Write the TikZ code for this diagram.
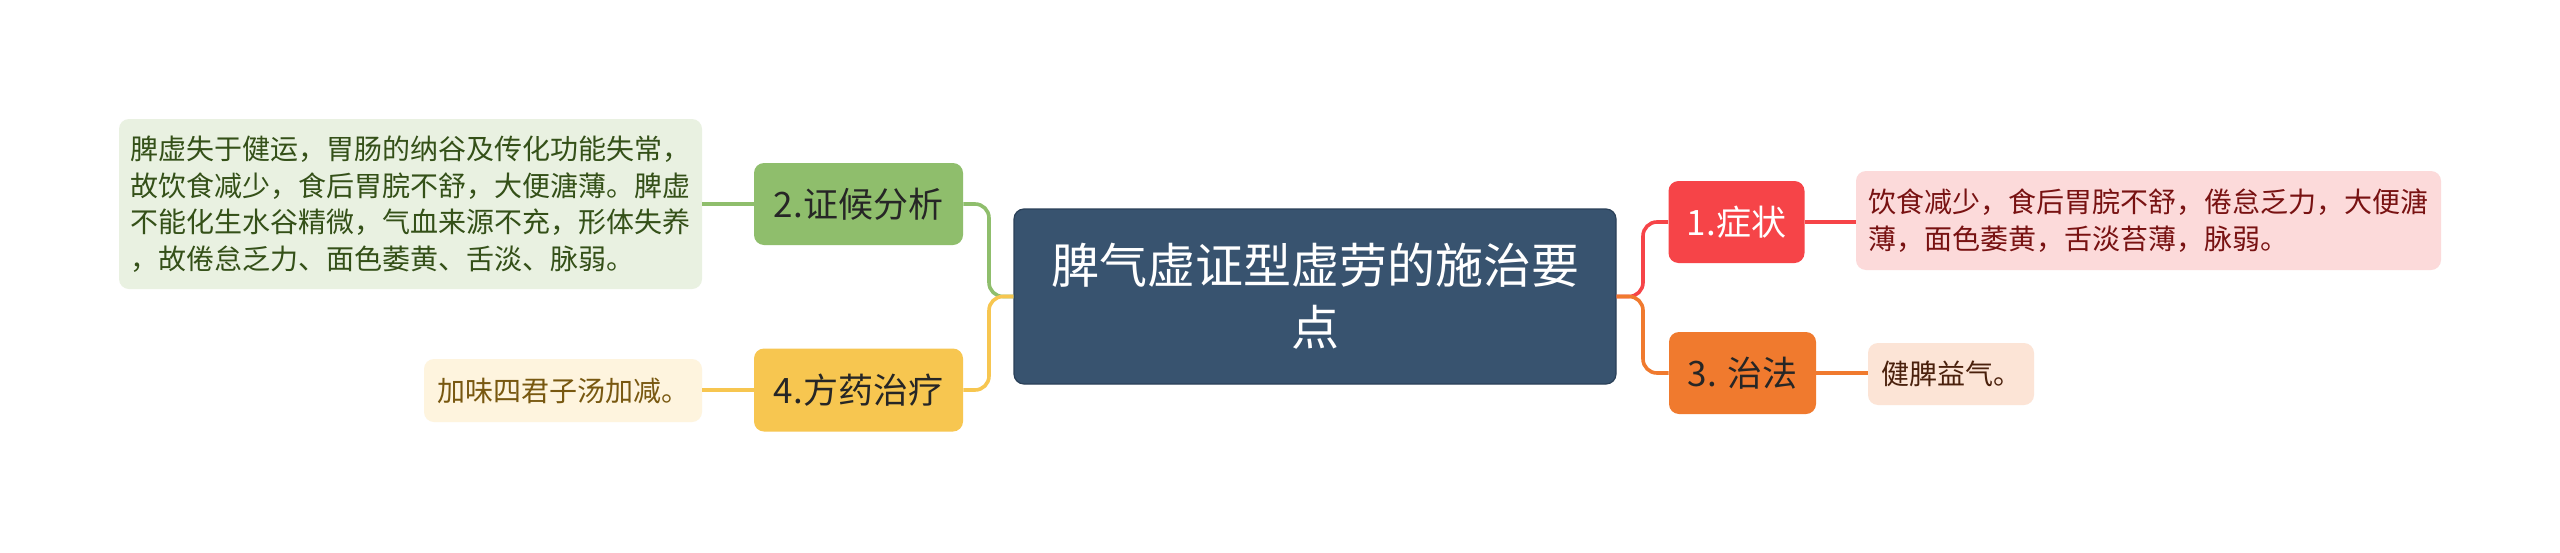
\documentclass[tikz,border=0pt]{standalone}
\usepackage{fontspec}
\setmainfont{Noto Sans CJK SC}
\definecolor{cbox}{RGB}{56,83,111}
\definecolor{cboxline}{RGB}{42,64,88}
\definecolor{gtopic}{RGB}{143,190,108}
\definecolor{gleaf}{RGB}{233,241,225}
\definecolor{gtext}{RGB}{52,80,24}
\definecolor{ytopic}{RGB}{247,198,80}
\definecolor{yleaf}{RGB}{254,244,222}
\definecolor{ytext}{RGB}{120,88,16}
\definecolor{rtopic}{RGB}{246,68,72}
\definecolor{rleaf}{RGB}{252,218,218}
\definecolor{rtext}{RGB}{120,18,18}
\definecolor{otopic}{RGB}{240,122,46}
\definecolor{oleaf}{RGB}{252,228,214}
\definecolor{otext}{RGB}{74,32,12}
\definecolor{darktext}{RGB}{38,38,38}
\tikzset{
  box/.style={rounded corners=5pt, inner sep=0pt, align=left},
  topicbox/.style={box, align=center, font=\fontsize{17.5}{20}\selectfont},
  leafbox/.style={box, font=\fontsize{14}{18.25}\selectfont},
  conn/.style={line width=1.8pt, rounded corners=7pt},
}
\begin{document}
\begin{tikzpicture}[x=0.5pt,y=-0.5pt]
\useasboundingbox[fill=white] (0,0) rectangle (2560,552);
% center
\node[box, align=center, fill=cbox, draw=cboxline, line width=0.6pt, text=white,
  minimum width=301pt, minimum height=87.5pt, font=\fontsize{24}{31}\selectfont]
  (c) at (1315,296.5) {脾气虚证型虚劳的施治要\\点};
% topics
\node[topicbox, fill=gtopic, text=darktext, minimum width=104.5pt, minimum height=41pt] (t2) at (858.5,204) {2.证候分析};
\node[topicbox, fill=ytopic, text=darktext, minimum width=104.5pt, minimum height=41.5pt] (t4) at (858.5,390) {4.方药治疗};
\node[topicbox, fill=rtopic, text=white, minimum width=68pt, minimum height=41pt] (t1) at (1736.5,222) {1.症状};
\node[topicbox, fill=otopic, text=darktext, minimum width=73.5pt, minimum height=41pt] (t3) at (1742.5,373) {3. 治法};
% leaves
\node[leafbox, fill=gleaf, text=gtext, minimum width=291.5pt, minimum height=85pt] (l2) at (410.5,204)
 {脾虚失于健运，胃肠的纳谷及传化功能失常，\\故饮食减少，食后胃脘不舒，大便溏薄。脾虚\\不能化生水谷精微，气血来源不充，形体失养\\，故倦怠乏力、面色萎黄、舌淡、脉弱。};
\node[leafbox, fill=yleaf, text=ytext, minimum width=139pt, minimum height=31.5pt] (l4) at (563,390.5) {加味四君子汤加减。};
\node[leafbox, fill=rleaf, text=rtext, minimum width=292.5pt, minimum height=49.5pt] (l1) at (2148.5,220.5)
 {饮食减少，食后胃脘不舒，倦怠乏力，大便溏\\薄，面色萎黄，舌淡苔薄，脉弱。};
\node[leafbox, fill=oleaf, text=otext, minimum width=83pt, minimum height=31pt] (l3) at (1951,374) {健脾益气。};
% connectors
\coordinate (jl) at (989,296.5);
\coordinate (jr) at (1643,296.5);
\draw[conn, gtopic] (c.west) -- (jl) |- (t2.east);
\draw[conn, ytopic] (c.west) -- (jl) |- (t4.east);
\draw[conn, rtopic] (c.east) -- (jr) |- (t1.west);
\draw[conn, otopic] (c.east) -- (jr) |- (t3.west);
\draw[conn, gtopic] (t2.west) -- (l2.east |- t2.west);
\draw[conn, ytopic] (t4.west) -- (l4.east |- t4.west);
\draw[conn, rtopic] (t1.east) -- (l1.west |- t1.east);
\draw[conn, otopic] (t3.east) -- (l3.west |- t3.east);
\end{tikzpicture}
\end{document}
